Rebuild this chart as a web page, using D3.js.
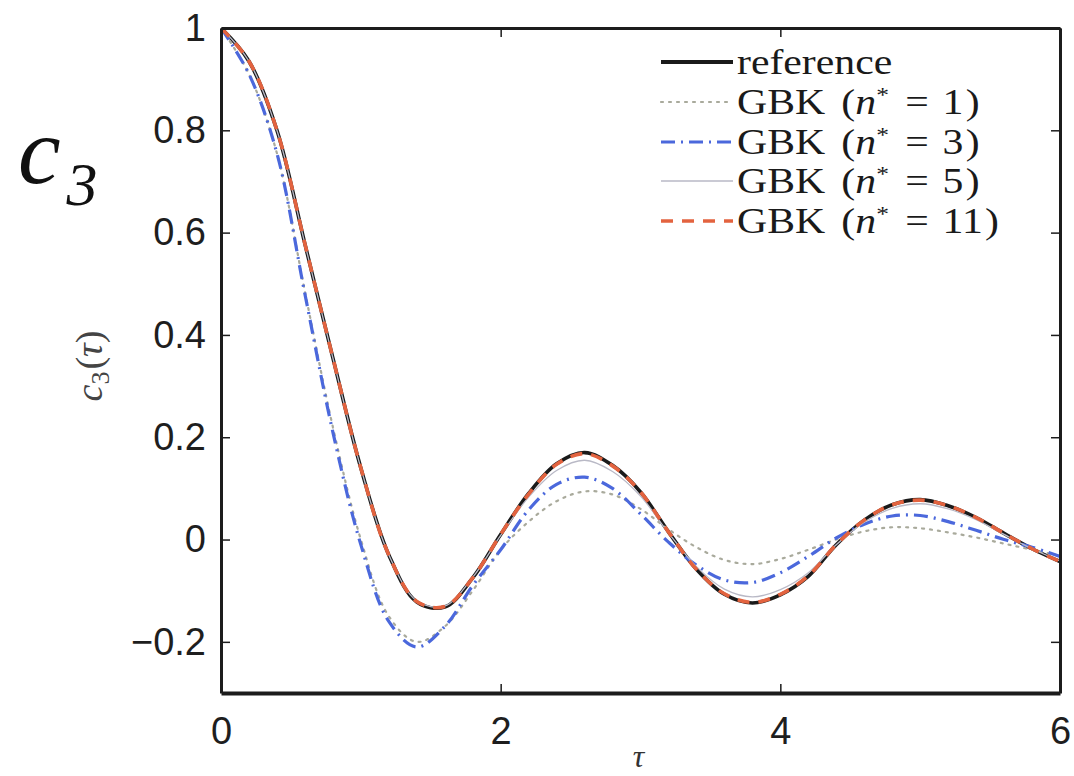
<!DOCTYPE html>
<html>
<head>
<meta charset="utf-8">
<script src="https://cdn.jsdelivr.net/npm/d3@7"></script>
<style>
  html, body { margin: 0; padding: 0; background: #fff; }
  svg { display: block; }
</style>
</head>
<body>
<svg id="chart" width="1074" height="776"></svg>
<script>
// Time lag τ (sampled every 0.2)
const tau = [0, 0.2, 0.4, 0.6, 0.8, 1.0, 1.2, 1.4, 1.6, 1.8, 2.0, 2.2, 2.4, 2.6, 2.8, 3.0,
             3.2, 3.4, 3.6, 3.8, 4.0, 4.2, 4.4, 4.6, 4.8, 5.0, 5.2, 5.4, 5.6, 5.8, 6.0];

// c3(τ) for the reference solution and for the GBK approximations
const cRef = [1.0, 0.935, 0.80, 0.578, 0.355, 0.14, -0.03, -0.122, -0.132, -0.075, 0.01, 0.09, 0.148, 0.170, 0.145, 0.093,
              0.015, -0.058, -0.107, -0.124, -0.108, -0.072, -0.01, 0.038, 0.068, 0.078, 0.066, 0.043, 0.012, -0.018, -0.043];
const cN1  = [1.0, 0.91, 0.755, 0.485, 0.22, 0.0, -0.15, -0.20, -0.17, -0.10, -0.02, 0.035, 0.075, 0.094, 0.088, 0.06,
              0.02, -0.015, -0.04, -0.048, -0.038, -0.02, 0.0, 0.016, 0.024, 0.022, 0.014, 0.004, -0.008, -0.02, -0.032];
const cN3  = [1.0, 0.91, 0.755, 0.48, 0.21, -0.01, -0.16, -0.21, -0.17, -0.09, -0.02, 0.058, 0.108, 0.122, 0.10, 0.05,
              -0.005, -0.05, -0.079, -0.084, -0.065, -0.033, 0.003, 0.03, 0.046, 0.047, 0.035, 0.018, 0.0, -0.015, -0.033];
const cN5  = [1.0, 0.935, 0.80, 0.578, 0.355, 0.14, -0.03, -0.12, -0.13, -0.074, 0.008, 0.083, 0.135, 0.155, 0.133, 0.085,
              0.013, -0.053, -0.097, -0.112, -0.098, -0.065, -0.01, 0.034, 0.061, 0.07, 0.06, 0.039, 0.01, -0.018, -0.042];
const cN11 = [1.0, 0.935, 0.80, 0.578, 0.355, 0.14, -0.03, -0.121, -0.131, -0.075, 0.01, 0.089, 0.147, 0.168, 0.144, 0.093,
              0.015, -0.058, -0.106, -0.123, -0.107, -0.071, -0.01, 0.038, 0.068, 0.077, 0.066, 0.043, 0.012, -0.018, -0.043];

const xTicks = [0, 2, 4, 6];
const xTickLabels = ["0", "2", "4", "6"];
const yTicks = [-0.2, 0, 0.2, 0.4, 0.6, 0.8, 1];
const yTickLabels = ["\u22120.2", "0", "0.2", "0.4", "0.6", "0.8", "1"];

const seriesNames = ["reference", "n1", "n3", "n5", "n11"];
const legendNs = [null, "1", "3", "5", "11"];

const styles = {
  reference: { color: "#1a1a1a", width: 3.6, dash: null },
  n1:        { color: "#a9aa9c", width: 2.2, dash: "2,6" },
  n3:        { color: "#4b68dc", width: 3.2, dash: "14,6,2,6" },
  n5:        { color: "#b9b9c6", width: 1.3, dash: null },
  n11:       { color: "#e3633f", width: 3.6, dash: "12,9" }
};

const seriesValues = { reference: cRef, n1: cN1, n3: cN3, n5: cN5, n11: cN11 };

const svg = d3.select("#chart");
const L = 221, R = 1060, T = 28, B = 693;

const x = d3.scaleLinear().domain([0, 6]).range([L, R]);
const y = d3.scaleLinear().domain([-0.3, 1]).range([B, T]);

const line = d3.line()
  .x(d => x(d[0]))
  .y(d => y(d[1]))
  .curve(d3.curveCatmullRom.alpha(0.5));

// plot area clip
svg.append("defs").append("clipPath").attr("id", "plotclip")
  .append("rect").attr("x", L).attr("y", T).attr("width", R - L).attr("height", B - T);

const curves = svg.append("g").attr("clip-path", "url(#plotclip)");
seriesNames.forEach(name => {
  const st = styles[name];
  const pts = tau.map((t, i) => [t, seriesValues[name][i]]);
  curves.append("path")
    .datum(pts)
    .attr("d", line)
    .attr("fill", "none")
    .attr("stroke", st.color)
    .attr("stroke-width", st.width)
    .attr("stroke-dasharray", st.dash)
    .attr("stroke-linecap", name === "n1" ? "round" : "butt")
    .attr("stroke-linejoin", "round");
});

// axes: inward ticks on all four sides
const tickFont = "'Liberation Sans', Arial, Helvetica, sans-serif";
function styleAxis(g, width) {
  g.select(".domain").attr("stroke", "#1c1c1c").attr("stroke-width", width);
  g.selectAll(".tick line").attr("stroke", "#1c1c1c").attr("stroke-width", 1.5);
  g.selectAll(".tick text")
    .attr("fill", "#1e1e1e")
    .style("font-family", tickFont)
    .style("font-size", "38px");
}

const gBottom = svg.append("g").attr("transform", `translate(0,${B})`)
  .call(d3.axisBottom(x).tickValues(xTicks).tickFormat((d, i) => xTickLabels[i])
    .tickSizeInner(-9).tickSizeOuter(0).tickPadding(16));
styleAxis(gBottom, 4);
gBottom.selectAll(".tick text").attr("dy", "0.92em");

const gLeft = svg.append("g").attr("transform", `translate(${L},0)`)
  .call(d3.axisLeft(y).tickValues(yTicks).tickFormat((d, i) => yTickLabels[i])
    .tickSizeInner(-9).tickSizeOuter(0).tickPadding(15));
styleAxis(gLeft, 3);

const gTop = svg.append("g").attr("transform", `translate(0,${T})`)
  .call(d3.axisTop(x).tickValues(xTicks).tickFormat("").tickSizeInner(-9).tickSizeOuter(0));
styleAxis(gTop, 3);

const gRight = svg.append("g").attr("transform", `translate(${R},0)`)
  .call(d3.axisRight(y).tickValues(yTicks).tickFormat("").tickSizeInner(-9).tickSizeOuter(0));
styleAxis(gRight, 3);

// axis titles
const serif = "'Liberation Serif', 'Times New Roman', Times, serif";
svg.append("text")
  .attr("x", (L + R) / 2 - 2).attr("y", 767)
  .attr("text-anchor", "middle")
  .style("font-family", serif).style("font-style", "italic")
  .style("font-size", "32px").attr("fill", "#333")
  .text("\u03C4");

const yTitle = svg.append("text")
  .attr("transform", "translate(102,366) rotate(-90)")
  .attr("text-anchor", "middle")
  .style("font-family", serif).style("font-size", "38px").attr("fill", "#444");
yTitle.append("tspan").style("font-style", "italic").text("c");
yTitle.append("tspan").attr("dy", 7).style("font-size", "26px").text("3");
yTitle.append("tspan").attr("dy", -7).attr("dx", 2).text("(");
yTitle.append("tspan").style("font-style", "italic").text("\u03C4");
yTitle.append("tspan").text(")");

// panel label
const panel = svg.append("text")
  .attr("x", 18).attr("y", 183)
  .style("font-family", serif).style("font-style", "italic")
  .attr("fill", "#111");
panel.append("tspan").style("font-size", "96px").text("c");
panel.append("tspan").attr("dy", 22).attr("dx", 6).style("font-size", "62px").text("3");

// legend
const legend = svg.append("g");
const rowY = [62, 102, 142, 181, 221];
seriesNames.forEach((name, i) => {
  const st = styles[name];
  legend.append("line")
    .attr("x1", 661).attr("x2", 733)
    .attr("y1", rowY[i]).attr("y2", rowY[i])
    .attr("stroke", st.color)
    .attr("stroke-width", name === "reference" ? 4.2 : st.width)
    .attr("stroke-dasharray", st.dash)
    .attr("stroke-linecap", name === "n1" ? "round" : "butt");
  // labels are set slightly wide, like the typeset original
  const t = legend.append("g")
    .attr("transform", `translate(737,${rowY[i] + 12}) scale(1.16,1)`)
    .append("text")
    .style("font-family", serif).style("font-size", "36px").attr("fill", "#1a1a1a");
  if (name === "reference") {
    t.text("reference");
  } else {
    t.append("tspan").text("GBK");
    t.append("tspan").attr("dx", 14).text("(");
    t.append("tspan").style("font-style", "italic").text("n");
    t.append("tspan").attr("dy", -12).style("font-size", "22px").text("*");
    t.append("tspan").attr("dy", 12).attr("dx", 14).text("=");
    t.append("tspan").attr("dx", 12).text(legendNs[i]);
    t.append("tspan").attr("dx", 2).text(")");
  }
});
</script>
</body>
</html>
